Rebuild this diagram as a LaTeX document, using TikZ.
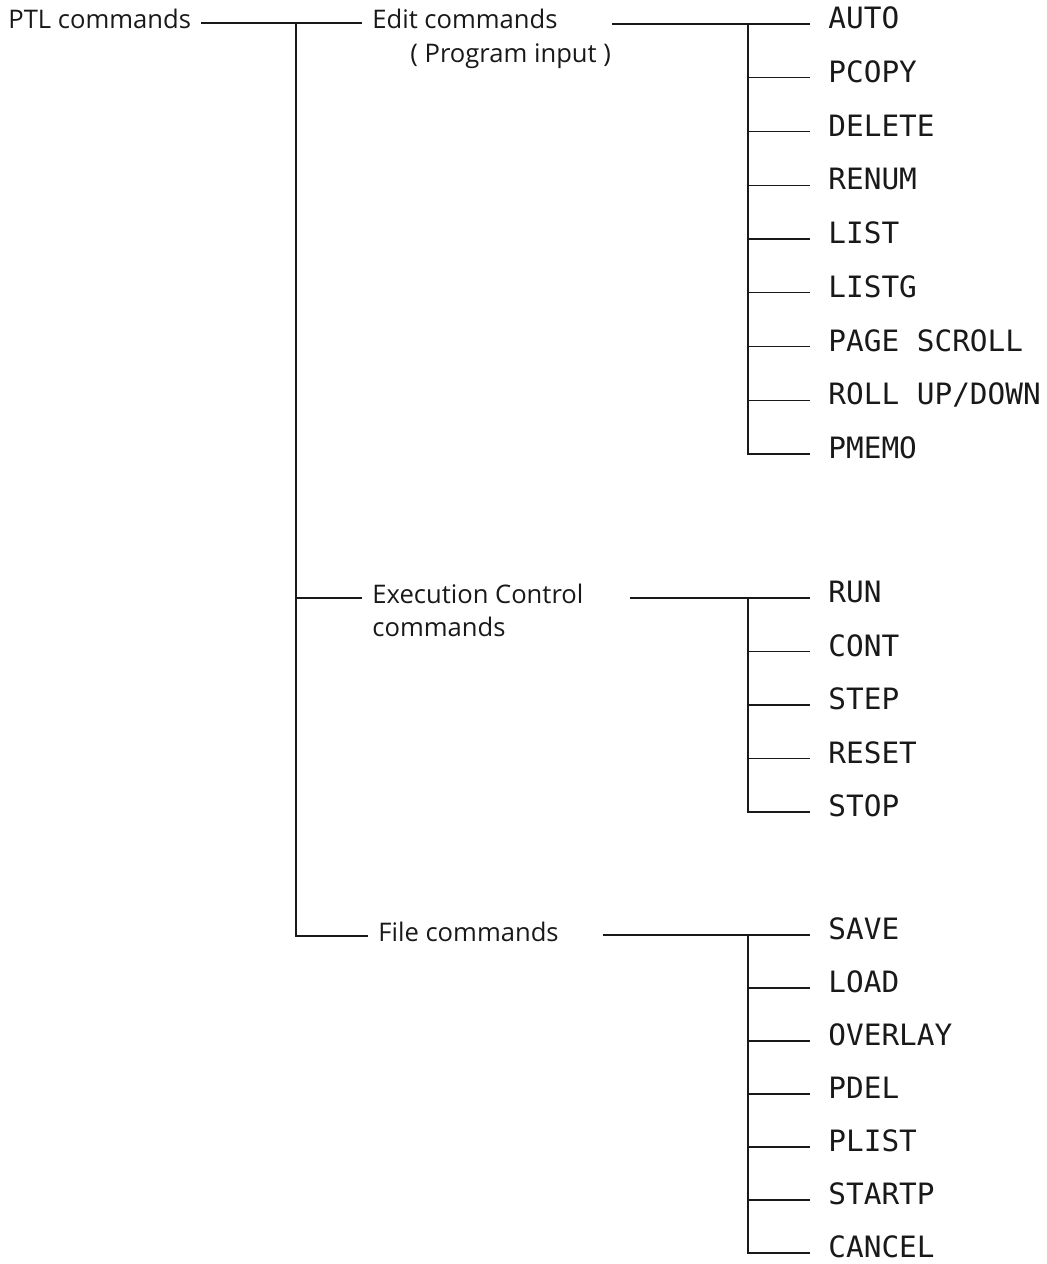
\documentclass[tikz,border=0pt]{standalone}
\usepackage{fontspec}
\setmainfont{Open Sans}
\newfontfamily\cmdfont{DejaVu Sans Mono}
\usetikzlibrary{positioning}
\definecolor{inkcol}{RGB}{25,25,25}
\tikzset{
  grp/.style={font=\fontsize{12.8}{15}\selectfont, text=inkcol, anchor=west,
              inner xsep=5pt, inner ysep=0pt, text height=0.72em, text depth=0.2em},
  item/.style={font=\cmdfont\fontsize{14.7}{17}\selectfont, text=inkcol, anchor=west,
               inner xsep=9pt, inner ysep=0pt, text height=0.73em, text depth=0.26em},
  conn/.style={draw=inkcol, line width=0.6pt},
}

\begin{document}
\begin{tikzpicture}[x=0.5pt,y=-0.5pt]
\useasboundingbox (0,0) rectangle (1047,1264);

% ── Command groups ────────────────────────────────────────────────────────────
\node[grp] (ptl)      at (-2,23)   {PTL commands};
\node[grp] (edit)     at (362,23)  {Edit commands};
\node[grp] (editnote) at (400,57)  {( Program input )};
\node[grp] (exec)     at (362,598) {Execution Control};
\node[grp] (execb)    at (362,631) {commands};
\node[grp] (file)     at (368,936) {File commands};

% ── Main trunk ───────────────────────────────────────────────────────────────
\coordinate (trunk) at (296,23);
\draw[conn] (ptl.east) -- (edit.west);
\draw[conn] (trunk) |- (exec.west);
\draw[conn] (trunk) |- (file.west);

% ── Edit commands ────────────────────────────────────────────────────────────
\coordinate (eout) at (612,24);
\coordinate (ebus) at (748,24);
\foreach \i/\lbl in {0/AUTO, 1/PCOPY, 2/DELETE, 3/RENUM, 4/LIST, 5/LISTG,
                     6/PAGE SCROLL, 7/{ROLL UP/DOWN}, 8/PMEMO} {
  \node[item] (e\i) at (810,24+\i*53.75) {\lbl};
  \draw[conn] (ebus) |- (e\i.west);
}
\draw[conn] (eout) -- (e0.west);

% ── Execution Control commands ───────────────────────────────────────────────
\coordinate (xout) at (630,598);
\coordinate (xbus) at (748,598);
\foreach \i/\lbl in {0/RUN, 1/CONT, 2/STEP, 3/RESET, 4/STOP} {
  \node[item] (x\i) at (810,598+\i*53.5) {\lbl};
  \draw[conn] (xbus) |- (x\i.west);
}
\draw[conn] (xout) -- (x0.west);

% ── File commands ────────────────────────────────────────────────────────────
\coordinate (fout) at (603,935);
\coordinate (fbus) at (748,935);
\foreach \i/\lbl in {0/SAVE, 1/LOAD, 2/OVERLAY, 3/PDEL, 4/PLIST, 5/STARTP,
                     6/CANCEL} {
  \node[item] (f\i) at (810,935+\i*53) {\lbl};
  \draw[conn] (fbus) |- (f\i.west);
}
\draw[conn] (fout) -- (f0.west);

\end{tikzpicture}
\end{document}
